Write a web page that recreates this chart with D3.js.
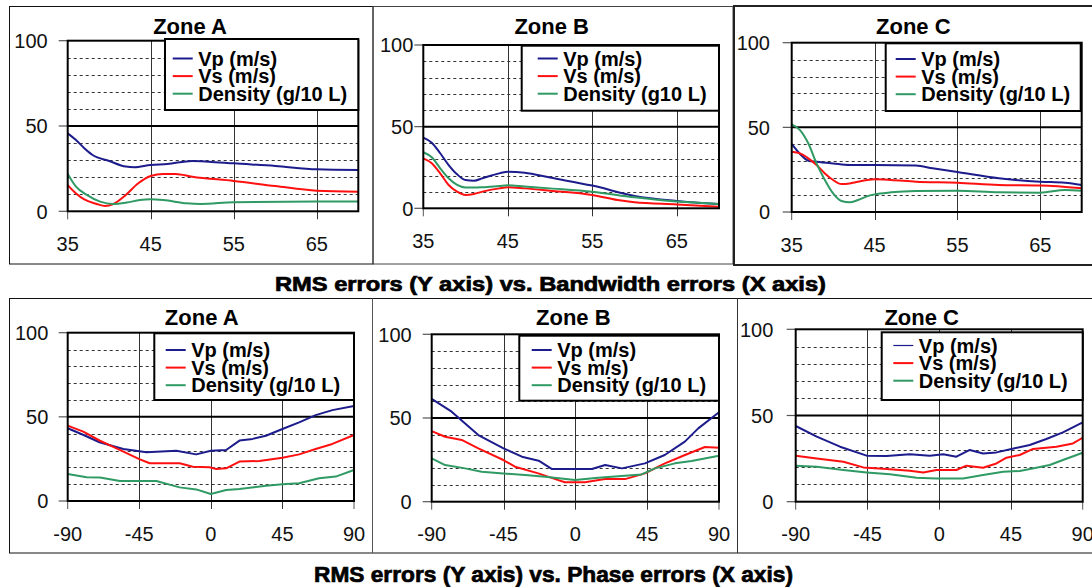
<!DOCTYPE html>
<html><head><meta charset="utf-8">
<script src="https://cdn.jsdelivr.net/npm/d3@7"></script>
<style>
body{margin:0;background:#fff}
svg{display:block}
text{font-family:"Liberation Sans",Arial,sans-serif}
</style>
</head><body>
<svg id="chart" width="1092" height="587"></svg>
<script>
// ---------- DATA ----------
const seriesKeys = ["Vp", "Vs", "Density"];
const bwTicks = [35, 45, 55, 65];
const phTicks = [-90, -45, 0, 45, 90];
const yTicks = [0, 50, 100];
const bwDomain = [35, 70];
const phDomain = [-90, 90];
const captionTop = "RMS errors (Y axis) vs. Bandwidth errors (X axis)";
const captionBottom = "RMS errors (Y axis) vs. Phase errors (X axis)";

// Bandwidth – Zone A
const taXvp = [35,36,37,38,40,42,43,45,47,50,52,55,60,65,70];
const taVp  = [45.7,41.8,37,33,29.5,26.2,25.8,27.1,27.7,29.5,29.1,28.1,26.6,24.6,24.2];
const taXvs = [35,36,37,38.5,39.5,40.5,42,43.5,45,46.5,48,50,55,60,65,70];
const taVs  = [15.4,10.5,7,4.3,3.1,4.3,9.6,16.4,20.7,21.9,21.9,20.3,17.8,14.8,12.1,11.5];
const taXd  = [35,36,37.3,38.9,40.5,42.1,43.7,45,46.5,49.3,51,55,65,70];
const taD   = [21.9,14.5,9.6,5.7,4.3,5.1,6.6,7,6.6,4.7,4.3,5.3,5.7,5.7];
// Bandwidth – Zone B
const tbXvp = [35,36,37,38,39,40,41,42,44,45,47,50,55,60,65,70];
const tbVp  = [43.3,40.2,33.7,26.5,20.8,17.3,16.9,18.4,21.4,22.4,21.8,18.8,13.9,7.6,4.5,2.7];
const tbXvs = [35,36,37,38,39,40,41,42,44,45,47,50,55,58,60,65,70];
const tbVs  = [30.6,27.6,21.4,14.3,10.2,8.2,8.8,10.2,12.2,12.9,12.2,10.8,8.2,5.1,3.7,2.4,1.0];
const tbXd  = [35,36,37,38,39,40,41,42,44,45,47,50,55,60,65,70];
const tbD   = [34.3,31.2,24.5,18.4,14.3,12.7,12.7,12.9,13.7,14.1,13.3,12.2,10.2,6.7,4.1,2.7];
// Bandwidth – Zone C
const tcXvp = [35,36,37,38,40,42,45,50,52,55,60,65,68,70];
const tcVp  = [40.2,34.3,30.3,29.7,28.7,27.8,27.8,27.4,25.8,23.6,19.9,17.9,17.3,15.9];
const tcXvs = [35,36,37,38,39,40,41,42,43,45,47,50,55,60,65,70];
const tcVs  = [35.6,34.6,31.7,27.8,22.8,18.9,16.5,16.9,17.9,19.3,18.9,17.9,17.3,15.9,15.6,14.0];
const tcXd  = [35,36,37,38,39,40,41,42,43,44,45,47,50,55,60,65,68,70];
const tcD   = [51.8,48.4,40.6,28.7,18.9,11.0,6.5,5.7,7.1,9.1,10.4,11.6,12.4,12.6,11.6,11.4,13,12.6];
// Phase – Zone A
const baXvp = [-90,-80,-70,-55,-40.5,-21.7,-9.2,0,9.6,18,26.3,34.6,45,55.5,65.9,76.4,90];
const baVp  = [43.2,39.2,34.9,30.9,28.9,29.9,27.7,29.9,30.3,35.9,36.9,38.8,42.8,46.7,51,54,56.4];
const baXvs = [-90,-80.2,-69.7,-59.3,-45,-38.4,-19.6,-11.3,-0.8,3.4,9.6,18,30.5,45,55.5,65.9,76.4,90];
const baVs  = [44.8,41.2,35.8,31.3,24.9,22.4,22.4,20.4,20,19,19.4,23.4,23.8,25.7,27.7,30.9,33.9,39.2];
const baXd  = [-90,-78.1,-69.7,-57.2,-34.3,-19.6,-9.2,0,9.6,18,34.6,45,55.5,68,78.5,90];
const baD   = [16,14.1,13.9,11.9,11.9,8.1,6.9,4.2,6.5,7.1,9.1,9.9,10.5,13.5,14.5,18.4];
// Phase – Zone B
const bbXvp = [-90,-77.5,-60.8,-45,-33.5,-23,-14.6,10.4,18.7,29.2,43.6,56,68.6,77,90];
const bbVp  = [61.4,53.8,39.8,31.9,26.9,24.5,19.5,19.5,21.9,19.9,22.9,27.9,35.9,43.8,53.4];
const bbXvs = [-90,-81.6,-71.2,-60.8,-45.1,-37.8,-23.2,-10.7,-6.5,6,18.6,31.1,43.6,56.1,68.7,81.2,90];
const bbVs  = [42.2,38.8,36.9,31.9,24.9,20.9,16.9,12.9,11.6,11.6,13.5,13.5,16.9,22.9,27.9,32.7,32.3];
const bbXd  = [-90,-81.6,-69.1,-58.7,-45.1,-31.5,-19,-0.2,14.4,31.1,41.5,49.9,62.4,72.8,90];
const bbD   = [25.9,21.9,19.9,17.9,16.9,15.9,14.9,12.9,14.3,15.5,16.3,19.9,22.9,24.3,27.5];
// Phase – Zone C
const bcXvp = [-90,-76.8,-62.2,-45.5,-33,-18.4,-5.9,2.5,10.8,19.2,27.5,35.9,45.3,56.8,67.2,77.6,90];
const bcVp  = [43.9,37.7,31.9,26.7,26.5,27.5,26.7,27.5,26.1,30,28,28.6,30.6,32.9,36.4,40.2,46];
const bcXvs = [-90,-76.8,-60.1,-47.6,-33,-18.4,-10,-1.7,10.8,17.1,27.5,35.9,42.2,50.5,58.9,73.5,83.9,90];
const bcVs  = [26.7,25.1,23.2,19.9,19,18,17,18.4,18.4,20.9,19.7,22.2,25.5,27.1,30.6,31.9,33.8,37.1];
const bcXd  = [-90,-76.8,-60.1,-45.5,-30.9,-14.2,-1.7,15,27.5,40.1,50.5,60.9,69.3,77.6,90];
const bcD   = [20.9,20.3,18.4,17,15.9,13.9,13.5,13.5,15.5,17.4,17.8,19.7,21.3,24.2,28.4];

// ---------- STYLE / LAYOUT ----------
const colors = {Vp: "#1c1c8c", Vs: "#ff1010", Density: "#2f9a63"};
const FONT = '"Liberation Sans", Arial, sans-serif';

const panels = [
  {title:"Zone A", tx:190, ty:34, L:67.7, R:358.3, T:40.7, B:211.3, dom:bwDomain, ticks:bwTicks, gap:20, smooth:true,
   leg:{x:165, y:39, w:193.3, h:71, sx:172.7, by:65.5}, labels:["Vp (m/s)","Vs (m/s)","Density (g/10 L)"],
   data:[[taXvp,taVp],[taXvs,taVs],[taXd,taD]], vpw:2},
  {title:"Zone B", tx:551.7, ty:34, L:423.3, R:719, T:45, B:208.3, dom:bwDomain, ticks:bwTicks, gap:10, smooth:true,
   leg:{x:521.7, y:45.7, w:197.3, h:65, sx:537.7, by:65.5}, labels:["Vp (m/s)","Vs (m/s)","Density (g10 L)"],
   data:[[tbXvp,tbVp],[tbXvs,tbVs],[tbXd,tbD]], vpw:2},
  {title:"Zone C", tx:913.3, ty:34, L:791.7, R:1081.7, T:42.7, B:212, dom:bwDomain, ticks:bwTicks, gap:21.7, smooth:true,
   leg:{x:885.7, y:43.3, w:195, h:67.7, sx:895.7, by:66}, labels:["Vp (m/s)","Vs (m/s)","Density (g/10 L)"],
   data:[[tcXvp,tcVp],[tcXvs,tcVs],[tcXd,tcD]], vpw:2},
  {title:"Zone A", tx:201.7, ty:325, L:67.7, R:354, T:332.7, B:501, dom:phDomain, ticks:phTicks, gap:19.4, smooth:false,
   leg:{x:154.3, y:333.3, w:199.7, h:66.7, sx:165.7, by:357}, labels:["Vp (m/s)","Vs (m/s)","Density (g/10 L)"],
   data:[[baXvp,baVp],[baXvs,baVs],[baXd,baD]], vpw:2},
  {title:"Zone B", tx:573.3, ty:325, L:431.7, R:719, T:334.3, B:501.7, dom:phDomain, ticks:phTicks, gap:20, smooth:false,
   leg:{x:519.3, y:335.7, w:199.7, h:65, sx:531.7, by:357}, labels:["Vp (m/s)","Vs m/s)","Density (g/10 L)"],
   data:[[bbXvp,bbVp],[bbXvs,bbVs],[bbXd,bbD]], vpw:2},
  {title:"Zone C", tx:921.7, ty:325, L:795.7, R:1082.7, T:329.3, B:501.7, dom:phDomain, ticks:phTicks, gap:22.4, smooth:false,
   leg:{x:881.7, y:332.3, w:201, h:67.7, sx:893.3, by:352.5}, labels:["Vp (m/s)","Vs (m/s)","Density (g/10 L)"],
   data:[[bcXvp,bcVp],[bcXvs,bcVs],[bcXd,bcD]], vpw:1.2}
];

const svg = d3.select("#chart");

// ---------- FRAMES ----------
const frames = svg.append("g").attr("fill", "none");
frames.append("rect").attr("x", 9.5).attr("y", 6.5).attr("width", 363.5).attr("height", 257.5).attr("stroke", "#111").attr("stroke-width", 1);
frames.append("rect").attr("x", 373).attr("y", 6.5).attr("width", 360).attr("height", 257.5).attr("stroke", "#444").attr("stroke-width", 1);
frames.append("rect").attr("x", 734).attr("y", 6).attr("width", 362).attr("height", 259).attr("stroke", "#222").attr("stroke-width", 2);
frames.append("rect").attr("x", 9.5).attr("y", 298.5).attr("width", 1090).attr("height", 254.5).attr("stroke", "#111").attr("stroke-width", 1);
frames.append("line").attr("x1", 372.5).attr("x2", 372.5).attr("y1", 298.5).attr("y2", 553).attr("stroke", "#555");
frames.append("line").attr("x1", 737.5).attr("x2", 737.5).attr("y1", 298.5).attr("y2", 553).attr("stroke", "#333");

// ---------- PANELS ----------
panels.forEach(p => {
  const g = svg.append("g");
  const x = d3.scaleLinear().domain(p.dom).range([p.L, p.R]);
  const y = d3.scaleLinear().domain([0, 100]).range([p.B, p.T]);

  // dashed horizontal grid
  const minor = d3.range(10, 100, 10).filter(v => v !== 50);
  g.selectAll(".hg").data(minor).join("line")
    .attr("x1", p.L).attr("x2", p.R)
    .attr("y1", d => Math.round(y(d)) + 0.5).attr("y2", d => Math.round(y(d)) + 0.5)
    .attr("stroke", "#333").attr("stroke-width", 1).attr("stroke-dasharray", "3,3");

  // vertical grid at inner ticks
  g.selectAll(".vg").data(p.ticks.filter(t => t > p.dom[0] && t < p.dom[1])).join("line")
    .attr("x1", d => Math.round(x(d)) + 0.5).attr("x2", d => Math.round(x(d)) + 0.5)
    .attr("y1", p.T).attr("y2", p.B + 8)
    .attr("stroke", "#333").attr("stroke-width", 1);
  // tick at left end
  g.append("line").attr("x1", x(p.dom[0])).attr("x2", x(p.dom[0])).attr("y1", p.B).attr("y2", p.B + 8)
    .attr("stroke", "#555");
  if (p.ticks.includes(p.dom[1])) {
    g.append("line").attr("x1", x(p.dom[1])).attr("x2", x(p.dom[1])).attr("y1", p.B).attr("y2", p.B + 8)
      .attr("stroke", "#555");
  }

  // y ticks
  g.selectAll(".yt").data(yTicks).join("line")
    .attr("x1", p.L - 9).attr("x2", p.L).attr("y1", d => y(d)).attr("y2", d => y(d))
    .attr("stroke", "#555").attr("stroke-width", 1.2);

  // 50 line
  g.append("line").attr("x1", p.L).attr("x2", p.R).attr("y1", y(50)).attr("y2", y(50))
    .attr("stroke", "#000").attr("stroke-width", 2);

  // series
  const line = d3.line().x(d => x(d[0])).y(d => y(d[1]))
    .curve(p.smooth ? d3.curveMonotoneX : d3.curveLinear);
  p.data.forEach((s, i) => {
    const pts = s[0].map((xv, k) => [xv, s[1][k]]);
    g.append("path").datum(pts).attr("d", line).attr("fill", "none")
      .attr("stroke", colors[seriesKeys[i]]).attr("stroke-width", 2)
      .attr("stroke-linejoin", "round");
  });

  // plot border
  g.append("rect").attr("x", p.L).attr("y", p.T).attr("width", p.R - p.L).attr("height", p.B - p.T)
    .attr("fill", "none").attr("stroke", "#000").attr("stroke-width", 2);

  // y labels
  g.selectAll(".yl").data(yTicks).join("text")
    .attr("x", p.L - p.gap).attr("y", d => y(d)).attr("dy", "0.36em")
    .attr("text-anchor", "end").attr("font-size", 20).attr("fill", "#111")
    .text(d => d);

  // x labels
  g.selectAll(".xl").data(p.ticks).join("text")
    .attr("x", d => x(d)).attr("y", p.B + 39.5)
    .attr("text-anchor", "middle").attr("font-size", 20).attr("fill", "#111")
    .text(d => d);

  // title
  g.append("text").attr("x", p.tx).attr("y", p.ty).attr("text-anchor", "middle")
    .attr("font-size", 22).attr("font-weight", "bold").attr("fill", "#000").text(p.title);

  // legend
  const lg = g.append("g");
  lg.append("rect").attr("x", p.leg.x).attr("y", p.leg.y).attr("width", p.leg.w).attr("height", p.leg.h)
    .attr("fill", "#fff").attr("stroke", "#000").attr("stroke-width", 2);
  p.labels.forEach((lab, i) => {
    const by = p.leg.by + i * 17.6;
    lg.append("line").attr("x1", p.leg.sx).attr("x2", p.leg.sx + 20)
      .attr("y1", by - 7).attr("y2", by - 7)
      .attr("stroke", colors[seriesKeys[i]]).attr("stroke-width", i === 0 ? p.vpw : 2);
    lg.append("text").attr("x", p.leg.sx + 25.5).attr("y", by)
      .attr("font-size", 20).attr("font-weight", "bold").attr("fill", "#000").text(lab);
  });
});

// ---------- CAPTIONS ----------
svg.append("text").attr("x", 275).attr("y", 291)
  .attr("font-size", 20).attr("font-weight", "bold").attr("fill", "#000")
  .attr("stroke", "#000").attr("stroke-width", 0.7)
  .attr("textLength", 551).attr("lengthAdjust", "spacingAndGlyphs")
  .text(captionTop);
svg.append("text").attr("x", 314).attr("y", 582)
  .attr("font-size", 22).attr("font-weight", "bold").attr("fill", "#000")
  .attr("stroke", "#000").attr("stroke-width", 0.7)
  .attr("textLength", 479).attr("lengthAdjust", "spacingAndGlyphs")
  .text(captionBottom);
</script>
</body></html>
